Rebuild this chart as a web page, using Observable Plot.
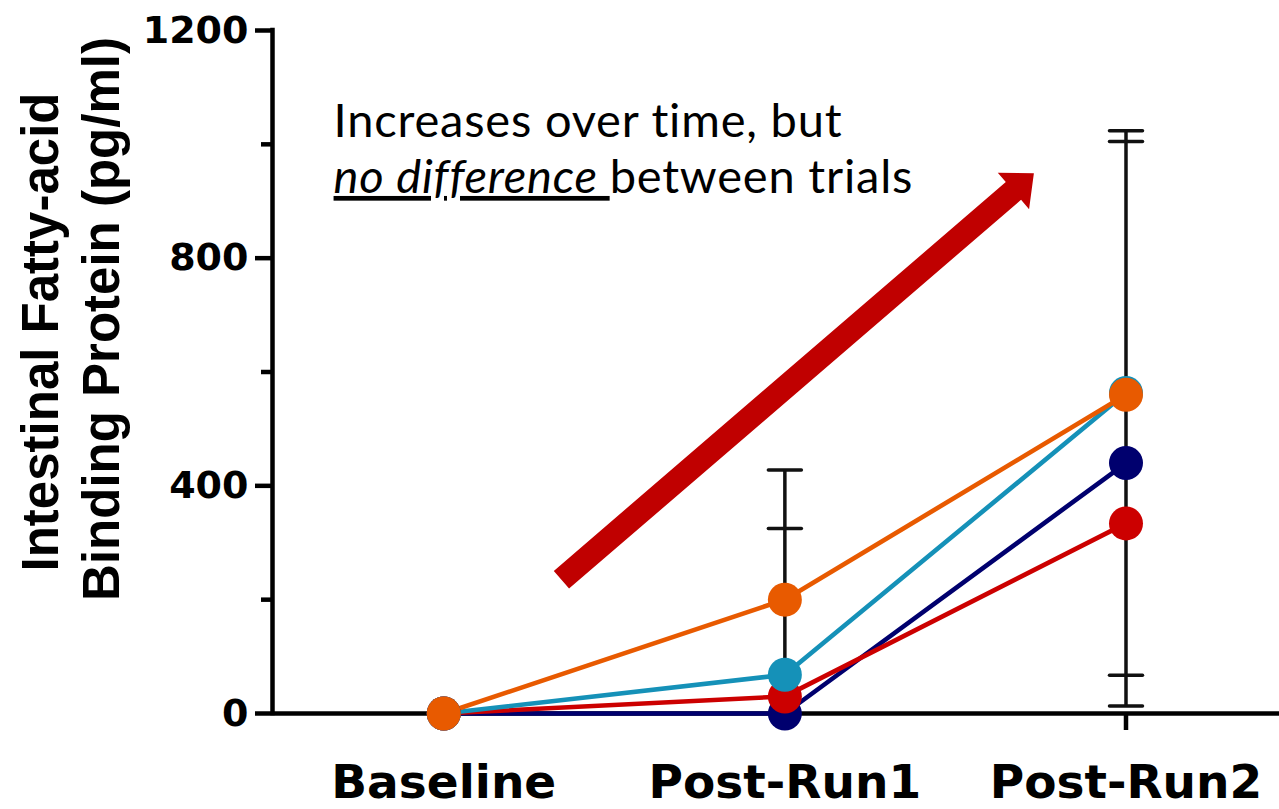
<!DOCTYPE html>
<html><head><meta charset="utf-8">
<script src="https://cdn.jsdelivr.net/npm/d3@7"></script>
<script src="https://cdn.jsdelivr.net/npm/@observablehq/plot@0.6"></script>
<style>html,body{margin:0;padding:0;background:#fff;} svg{display:block;}</style>
</head><body><div id="chart"></div>
<script>
// ---- data ----
const categories = ["Baseline", "Post-Run1", "Post-Run2"];
const seriesNames = ["Trial 1", "Trial 2", "Trial 3", "Trial 4"];
const seriesColors = ["#00006E", "#CC0000", "#1591B8", "#E85A00"];
const navyValues = [0, 0, 440];
const redValues = [0, 30, 334];
const cyanValues = [0, 68, 563];
const orangeValues = [0, 200, 560];
const errorCategories = [1, 2];
const errorLow = [0, 13];
const errorHigh = [428, 1024];
const capCategories = [1, 1, 2, 2, 2, 2];
const capValues = [428, 325, 1024, 1005, 67, 13];
const yMajorTicks = [0, 400, 800, 1200];
const yMinorTicks = [200, 600, 1000];
const xTicks = [0, 1, 2];
const yLabelLines = ["Intestinal Fatty-acid", "Binding Protein (pg/ml)"];
const noteLines = ["Increases over time, but", "no difference between trials"];
const noteEmphasis = "no difference ";
const notePosition = [-0.323, 1084];
const arrowFrom = [0.345, 235];
const arrowTo = [1.730, 949];
const xDomain = [-0.502, 2.45];

// ---- derived tables ----
const valueLists = [navyValues, redValues, cyanValues, orangeValues];
const rows = valueLists.flatMap((vals, s) => vals.map((v, i) => ({series: seriesNames[s], cat: i, value: v})));
const errRows = errorCategories.map((c, i) => ({cat: c, lo: errorLow[i], hi: errorHigh[i]}));
const capRows = capCategories.map((c, i) => ({cat: c, value: capValues[i]}));
const noteRows = [{text: noteLines.join("\n"), x: notePosition[0], y: notePosition[1]}];

const barShape = {draw(ctx, l) { ctx.moveTo(0, 0); ctx.lineTo(0, -l); }};
const arrowShape = {draw(ctx, l) {
  const sw = 11.7, hw = 24, hl = 27;
  ctx.moveTo(-sw, 0); ctx.lineTo(-sw, -(l - hl)); ctx.lineTo(-hw, -(l - hl));
  ctx.lineTo(0, -l); ctx.lineTo(hw, -(l - hl)); ctx.lineTo(sw, -(l - hl));
  ctx.lineTo(sw, 0); ctx.closePath();
}};

const boldFont = "DejaVu Sans, sans-serif";
const labelFont = "Liberation Sans, Arial, sans-serif";

function build(extra) {
  return Plot.plot({
    width: 1279, height: 809,
    marginLeft: 272, marginRight: 0, marginTop: 30, marginBottom: 96,
    x: {type: "linear", domain: xDomain},
    y: {domain: [0, 1200]},
    color: {domain: seriesNames, range: seriesColors},
    style: {background: "#fff", color: "#000"},
    marks: [
      Plot.axisY(yMinorTicks, {anchor: "left", tickSize: 11, strokeWidth: 4.5, tickFormat: () => "", label: null}),
      Plot.axisY(yMajorTicks, {anchor: "left", tickSize: 17, tickPadding: 7, strokeWidth: 4.5,
        tickFormat: d => String(d),
        fontSize: 38, fontWeight: "bold", fontFamily: boldFont, label: null}),
      Plot.axisX(xTicks, {anchor: "bottom", tickSize: 17, tickPadding: 34, strokeWidth: 4.5,
        tickFormat: i => categories[i], fontSize: 47, fontWeight: "bold", fontFamily: boldFont, label: null}),
      Plot.ruleY([0], {stroke: "#000", strokeWidth: 4.5}),
      Plot.ruleX([xDomain[0]], {y1: 0, y2: 1200, stroke: "#000", strokeWidth: 4.5, strokeLinecap: "square"}),
      Plot.ruleX(errRows, {x: "cat", y1: "lo", y2: "hi", stroke: "#111", strokeWidth: 3.5}),
      Plot.vector(capRows, {x: "cat", y: "value", length: 33, rotate: 90, anchor: "middle",
        shape: barShape, stroke: "#111", strokeWidth: 3.5, strokeLinecap: "round"}),
      Plot.line(rows, {x: "cat", y: "value", z: "series", stroke: "series", strokeWidth: 4.6}),
      Plot.dot(rows, {x: "cat", y: "value", fill: "series", r: 17}),
      ...extra,
      Plot.text(noteRows, {x: "x", y: "y", text: "text", textAnchor: "start", lineAnchor: "top",
        lineHeight: 1.2, fontSize: 47, fontFamily: "Lato, sans-serif", fill: "#000"}),
      Plot.text([yLabelLines[0]], {text: d => d, frameAnchor: "left", textAnchor: "middle", rotate: -90, dx: -231, dy: -40,
        fontSize: 51, fontWeight: "bold", fontFamily: labelFont, fill: "#000"}),
      Plot.text([yLabelLines[1]], {text: d => d, frameAnchor: "left", textAnchor: "middle", rotate: -90, dx: -170, dy: -53,
        fontSize: 51, fontWeight: "bold", fontFamily: labelFont, fill: "#000"})
    ]
  });
}

const probe = build([]);
const sx = probe.scale("x"), sy = probe.scale("y");
const px0 = sx.apply(arrowFrom[0]), py0 = sy.apply(arrowFrom[1]);
const px1 = sx.apply(arrowTo[0]), py1 = sy.apply(arrowTo[1]);
const arrowLen = Math.hypot(px1 - px0, py1 - py0);
const arrowRot = Math.atan2(px1 - px0, -(py1 - py0)) * 180 / Math.PI;

const chart = build([
  Plot.vector([{x: arrowFrom[0], y: arrowFrom[1]}], {x: "x", y: "y", length: arrowLen, rotate: arrowRot,
    anchor: "start", shape: arrowShape, fill: "#C00000", stroke: "none"})
]);

// mixed styling on the second note line
d3.select(chart).selectAll("tspan, text").filter(function() {
    return this.textContent === noteLines[1] && this.children.length === 0;
  })
  .each(function() {
    const t = d3.select(this);
    if (this.parentNode) d3.select(this.parentNode)
      .style("text-decoration-skip-ink", "none").style("letter-spacing", "0.8px");
    t.text(null);
    t.append("tspan").attr("font-style", "italic").attr("text-decoration", "underline")
      .style("text-decoration-skip-ink", "none")
      .text(noteEmphasis.replace(/ $/, "\u00a0"));
    t.append("tspan").text(noteLines[1].slice(noteEmphasis.length));
  });

document.getElementById("chart").appendChild(chart);
</script>
</body></html>
